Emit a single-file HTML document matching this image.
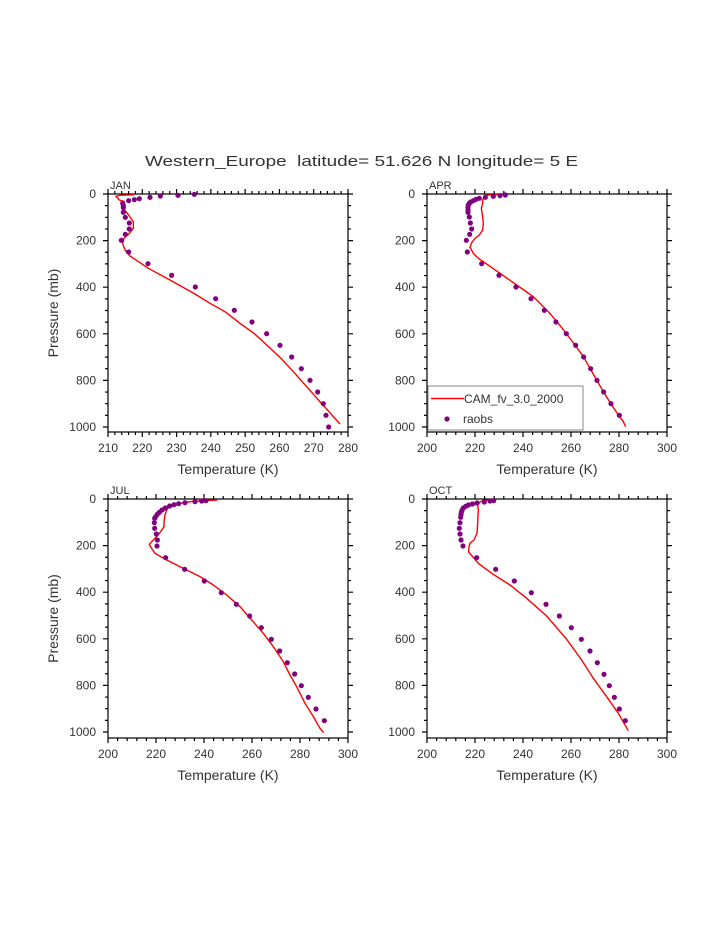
<!DOCTYPE html>
<html><head><meta charset="utf-8"><style>
html,body{margin:0;padding:0;background:#fff;}
svg text{font-family:"Liberation Sans","DejaVu Sans",sans-serif;fill:#333;}
</style></head><body>
<svg id="s" width="723" height="935" xmlns="http://www.w3.org/2000/svg">
<text x="145" y="166" font-size="15" style="white-space:pre" textLength="433" lengthAdjust="spacingAndGlyphs">Western_Europe  latitude= 51.626 N longitude= 5 E</text>
</svg>
<script>
const NS="http://www.w3.org/2000/svg";
const s=document.getElementById('s');
function el(t,a,txt){const e=document.createElementNS(NS,t);for(const k in a)e.setAttribute(k,a[k]);if(txt!==undefined)e.textContent=txt;s.appendChild(e);return e;}
const panels=[
 {name:"JAN",ox:100,oy:170,bx:108,by:194,bw:240,bh:238,p0:194,p1:427,t0:210,t1:280,maj:10,min:2,
  dots:[[283,73],[234,76],[181,78],[150,82],[118,86],[103,89],[86,92],[68,100],[70,107],[70,113],[70,127],[76,142],[88,159],[88,177],[76,193],[64,211],[86,246],[144,281],[215,316],[286,351],[347,386],[403,421],[456,456],[500,491],[540,526],[575,561],[604,596],[630,631],[653,666],[670,701],[678,736],[686,771]],
  line:[[103,74],[60,76],[48,79],[58,90],[72,94],[74,100],[74,120],[86,135],[100,155],[100,175],[88,190],[72,205],[68,220],[72,232],[78,245],[90,258],[145,295],[210,330],[285,372],[330,400],[375,425],[420,460],[462,490],[500,525],[540,562],[580,605],[620,650],[660,695],[720,762]]},
 {name:"APR",ox:400,oy:170,bx:427,by:194,bw:240,bh:238,p0:194,p1:427,t0:200,t1:300,maj:20,min:4,legend:true,
  dots:[[316,75],[300,77],[280,79],[256,82],[238,85],[228,88],[220,92],[212,96],[208,100],[205,105],[204,112],[204,120],[204,127],[208,141],[211,159],[215,177],[209,193],[199,211],[202,246],[245,281],[297,316],[348,351],[393,386],[433,421],[468,456],[499,491],[527,526],[551,561],[572,596],[591,631],[611,666],[633,701],[658,736]],
  line:[[300,73],[265,75],[255,78],[248,90],[248,100],[244,115],[248,140],[250,160],[248,180],[238,195],[225,205],[215,218],[210,232],[220,250],[235,265],[250,275],[300,310],[350,345],[400,380],[445,425],[475,460],[500,492],[525,525],[550,560],[570,595],[590,630],[610,665],[632,700],[655,735],[670,755],[677,770]]},
 {name:"JUL",ox:100,oy:480,bx:108,by:499,bw:240,bh:239,p0:499,p1:732,t0:200,t1:300,maj:20,min:4,
  dots:[[318,62],[305,63],[285,65],[255,68],[236,71],[222,74],[209,78],[196,84],[186,90],[178,97],[172,103],[167,110],[164,115],[163,128],[164,145],[169,162],[172,180],[171,198],[197,233],[254,268],[313,303],[364,338],[409,373],[449,408],[484,443],[514,478],[539,513],[562,548],[584,582],[604,617],[625,652],[648,687],[673,722]],
  line:[[352,60],[310,62],[280,64],[250,68],[220,76],[205,82],[200,90],[195,105],[192,125],[192,140],[182,155],[165,175],[155,185],[148,193],[155,205],[165,220],[200,240],[250,265],[300,290],[340,315],[380,345],[420,380],[455,420],[490,460],[520,500],[550,545],[570,585],[590,620],[615,670],[640,710],[660,745],[671,758]]},
 {name:"OCT",ox:400,oy:480,bx:427,by:499,bw:240,bh:239,p0:499,p1:732,t0:200,t1:300,maj:20,min:4,
  dots:[[281,62],[270,63],[253,66],[231,69],[217,72],[205,75],[197,79],[190,84],[186,91],[184,97],[183,104],[182,112],[180,128],[178,145],[180,162],[183,180],[189,198],[230,233],[287,268],[343,303],[394,338],[438,373],[478,408],[514,443],[544,478],[570,513],[592,548],[612,583],[628,617],[643,652],[658,687],[676,722]],
  line:[[265,60],[248,62],[240,66],[233,75],[235,90],[234,105],[233,130],[231,160],[222,180],[210,190],[207,200],[206,216],[218,230],[235,250],[275,280],[330,315],[380,355],[440,408],[500,478],[545,540],[580,595],[620,650],[655,700],[685,752]]}
];
for(const P of panels){
  const L=P.bx,R=P.bx+P.bw,T=P.by,B=P.by+P.bh;
  const tx=t=>L+(t-P.t0)/(P.t1-P.t0)*P.bw;
  const py=p=>P.p0+p/1000*(P.p1-P.p0);
  let d="";
  for(let t=P.t0;t<=P.t1+1e-6;t+=P.min){
    const x=tx(t),m=Math.abs(((t-P.t0)/P.maj)-Math.round((t-P.t0)/P.maj))<1e-6,len=m?5:3;
    d+=`M${x},${B}v${len}M${x},${T}v${-len}`;
    if(m) el('text',{x:x,y:B+20,'font-size':12,'text-anchor':'middle'},t);
  }
  for(let p=0;p<=1000;p+=50){
    const y=py(p),m=p%200==0,len=m?5:3;
    d+=`M${L},${y}h${-len}M${R},${y}h${len}`;
    if(m) el('text',{x:L-12,y:y+4,'font-size':12,'text-anchor':'end'},p);
  }
  el('path',{d:d,stroke:'#000','stroke-width':1.2,fill:'none'});
  el('rect',{x:L,y:T,width:P.bw,height:P.bh,fill:'none',stroke:'#000','stroke-width':1.2});
  el('text',{x:L+2,y:T-5,'font-size':11},P.name);
  el('text',{x:(L+R)/2,y:B+42,'font-size':14,'text-anchor':'middle'},"Temperature (K)");
  if(L<200){const cy=(T+B)/2;el('text',{x:58,y:cy,'font-size':14,'text-anchor':'middle',transform:`rotate(-90 58 ${cy})`},"Pressure (mb)");}
  el('polyline',{points:P.line.map(q=>`${P.ox+q[0]/3},${P.oy+q[1]/3}`).join(' '),fill:'none',stroke:'#ff0000','stroke-width':1.4});
  for(const q of P.dots) el('circle',{cx:P.ox+q[0]/3,cy:P.oy+q[1]/3,r:2.6,fill:'#800080'});
  if(P.legend){
    el('rect',{x:428,y:386,width:155,height:44,fill:'#fff',stroke:'#888','stroke-width':1});
    el('line',{x1:431,y1:398.5,x2:464,y2:398.5,stroke:'#ff0000','stroke-width':1.4});
    el('text',{x:464,y:403,'font-size':12},"CAM_fv_3.0_2000");
    el('circle',{cx:447,cy:419,r:2.6,fill:'#800080'});
    el('text',{x:463,y:423,'font-size':12},"raobs");
  }
}
</script>
</body></html>
